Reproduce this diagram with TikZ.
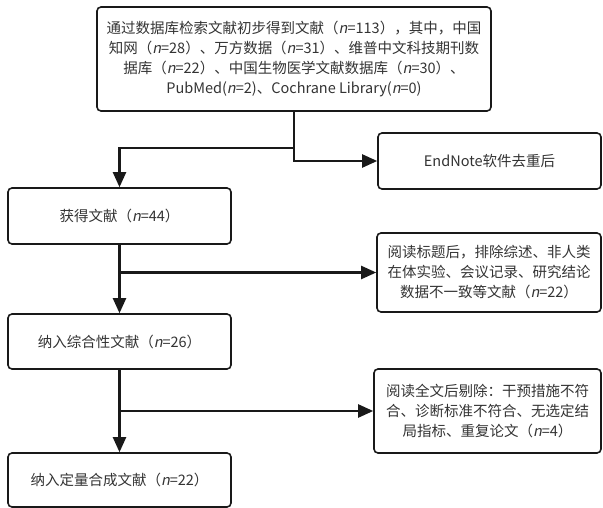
\documentclass[tikz,border=0pt]{standalone}
\usepackage{fontspec}
\setmainfont{Noto Sans CJK SC}[AutoFakeSlant=0.2]
\usetikzlibrary{arrows.meta}
\begin{document}
\begin{tikzpicture}[x=1pt,y=-1pt,
  box/.style={draw=black!90, line width=1.6pt, rounded corners=4pt, align=center,
    inner sep=0pt, text=black!80, font=\fontsize{14.5}{20}\selectfont},
  conn/.style={draw=black!90, line width=2.2pt},
  arr/.style={conn, -{Triangle[length=15pt,width=13pt]}}]
\useasboundingbox (0,0) rectangle (603,508);
\node[box, minimum width=394pt, minimum height=104pt] (top) at (294,59)
  {通过数据库检索文献初步得到文献（\textit{n}=113），其中，中国\\
   知网（\textit{n}=28）、万方数据（\textit{n}=31）、维普中文科技期刊数\\
   据库（\textit{n}=22）、中国生物医学文献数据库（\textit{n}=30）、\\
   PubMed(\textit{n}=2)、Cochrane Library(\textit{n}=0)};
\node[box, minimum width=223pt, minimum height=56pt] (endnote) at (489.5,161) {EndNote软件去重后};
\node[box, minimum width=223pt, minimum height=56pt] (hq) at (119.5,216) {获得文献（\textit{n}=44）};
\node[box, minimum width=224pt, minimum height=79pt] (read1) at (489,272.5)
  {阅读标题后，排除综述、非人类\\在体实验、会议记录、研究结论\\数据不一致等文献（\textit{n}=22）};
\node[box, minimum width=223pt, minimum height=55pt] (incl1) at (119.5,341.5) {纳入综合性文献（\textit{n}=26）};
\node[box, minimum width=227pt, minimum height=84pt] (read2) at (487.5,411)
  {阅读全文后剔除：干预措施不符\\合、诊断标准不符合、无选定结\\局指标、重复论文（\textit{n}=4）};
\node[box, minimum width=223pt, minimum height=54pt] (incl2) at (119.5,480) {纳入定量合成文献（\textit{n}=22）};
\coordinate (b1) at (294,148);
\draw[arr] (top.south) |- (endnote.west);
\draw[arr] (b1) -| (hq.north);
\draw[arr] (hq.south) -- (incl1.north);
\coordinate (b2) at (hq.south |- read1.west);
\draw[arr] (b2) -- (read1.west);
\draw[arr] (incl1.south) -- (incl2.north);
\coordinate (b3) at (incl1.south |- read2.west);
\draw[arr] (b3) -- (read2.west);
\end{tikzpicture}
\end{document}
